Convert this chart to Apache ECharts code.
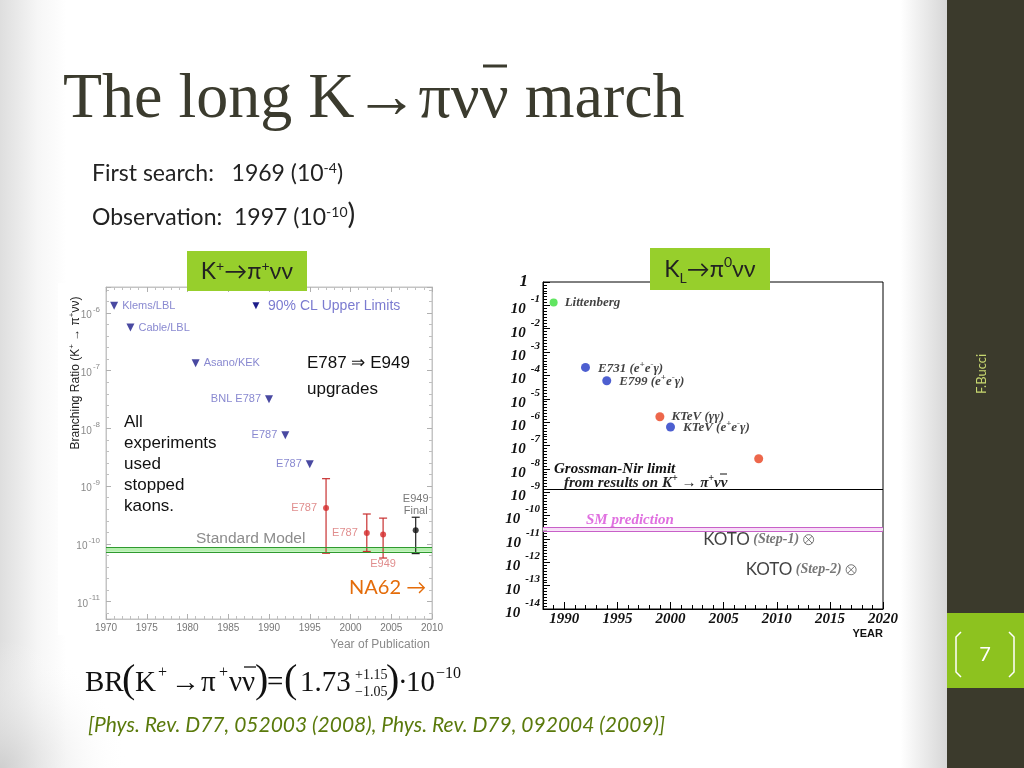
<!DOCTYPE html>
<html>
<head>
<meta charset="utf-8">
<title>The long K→πνν̄ march</title>
<script src="https://cdn.jsdelivr.net/npm/echarts@6/dist/echarts.min.js"></script>
<style>
  html, body { margin: 0; padding: 0; background: #fff; }
  #main { width: 1024px; height: 768px; }
</style>
</head>
<body>
<div id="main"></div>
<script>
'use strict';

// ---- K+ -> pi+ nu nubar (left panel) ----
// 90% CL upper limits
var limitYears = [1971, 1973, 1981, 1990, 1992, 1995];
var limitValues = [1.34e-6, 5.6e-7, 1.35e-7, 3.2e-8, 7.6e-9, 2.4e-9];
var limitNames = ['Klems/LBL', 'Cable/LBL', 'Asano/KEK', 'BNL E787', 'E787', 'E787'];

// measurements: central value and ends of the error bar
var measYears = [1997, 2002, 2004, 2008];
var measValues = [4.2e-10, 1.55e-10, 1.45e-10, 1.73e-10];
var measHigh = [1.35e-9, 3.3e-10, 2.8e-10, 2.9e-10];
var measLow = [6.9e-11, 7.4e-11, 5.7e-11, 6.8e-11];
var measNames = ['E787', 'E787', 'E949', 'E949\nFinal'];

// Standard Model band
var smBandCharged = [7.3e-11, 8.7e-11];

// ---- KL -> pi0 nu nubar (right panel) ----
var littenbergYears = [1989];
var littenbergValues = [1.34e-1];
var eegYears = [1992, 1994, 2000];
var eegValues = [2.2e-4, 5.9e-5, 6.2e-7];
var eegNames = ['E731', 'E799', 'KTeV'];
var ggYears = [1999, 2008.3];
var ggValues = [1.7e-6, 2.7e-8];
var ggNames = ['KTeV', ''];
var grossmanNir = 1.38e-9;
var smBandNeutral = [2.25e-11, 3.2e-11];
var kotoYears = [2013, 2017];
var kotoValues = [9.3e-12, 4.8e-13];
var kotoSteps = ['Step-1', 'Step-2'];

var SERIF = "'Liberation Serif', 'DejaVu Serif', serif";
var SANS = "'Liberation Sans', Arial, sans-serif";
var SLIDE = "Lato, 'Open Sans', sans-serif";

function lg(v) { return Math.log10(v); }
function isDecade(v) { return Math.abs(v - Math.round(v)) < 1e-6; }

var chart = echarts.init(document.getElementById('main'));

// 上限点
var limitData = limitYears.map(function (yr, i) {
    return {
        value: [yr, lg(limitValues[i])],
        name: limitNames[i],
        label: { position: i < 3 ? 'right' : 'left' }
    };
});

// 测量点
var measData = measYears.map(function (yr, i) {
    var final = measNames[i].indexOf('Final') >= 0;
    var pos = 'left', dist = 6;
    if (measNames[i] === 'E949') { pos = 'bottom'; dist = 20; }
    if (final) { pos = 'top'; dist = 10; }
    return {
        value: [yr, lg(measValues[i])],
        name: measNames[i],
        itemStyle: { color: final ? '#111' : '#d42a2a' },
        label: { position: pos, distance: dist, color: final ? '#555' : '#d87070' }
    };
});

var errData = measYears.map(function (yr, i) {
    return [yr, lg(measLow[i]), lg(measHigh[i])];
});

function errorBar(params, api) {
    var low = api.coord([api.value(0), api.value(1)]);
    var high = api.coord([api.value(0), api.value(2)]);
    var color = measNames[params.dataIndex].indexOf('Final') >= 0 ? '#222' : '#c83030';
    var cap = 4;
    var st = { stroke: color, lineWidth: 1.2 };
    return {
        type: 'group',
        children: [
            { type: 'line', shape: { x1: low[0], y1: low[1], x2: high[0], y2: high[1] }, style: st },
            { type: 'line', shape: { x1: low[0] - cap, y1: low[1], x2: low[0] + cap, y2: low[1] }, style: st },
            { type: 'line', shape: { x1: high[0] - cap, y1: high[1], x2: high[0] + cap, y2: high[1] }, style: st }
        ]
    };
}

var labRich = {
    t: { fontFamily: SERIF, fontWeight: 'bold', fontStyle: 'italic', fontSize: 13, color: '#111', verticalAlign: 'bottom' },
    p: { fontFamily: SERIF, fontWeight: 'bold', fontStyle: 'italic', fontSize: 9, color: '#111', verticalAlign: 'bottom', padding: [0, 0, 6, 0] }
};

var eegData = eegYears.map(function (yr, i) {
    return {
        value: [yr, lg(eegValues[i])],
        name: eegNames[i],
        label: { formatter: '{t|' + eegNames[i] + ' (e}{p|+}{t|e}{p|-}{t|γ)}' }
    };
});
var ggData = ggYears.map(function (yr, i) {
    return {
        value: [yr, lg(ggValues[i])],
        name: ggNames[i],
        label: { show: ggNames[i] !== '', formatter: '{t|' + ggNames[i] + ' (γγ)}' }
    };
});
var kotoData = kotoYears.map(function (yr, i) {
    return {
        value: [yr, lg(kotoValues[i])],
        label: { formatter: '{k|KOTO} {s|(' + kotoSteps[i] + ')}' }
    };
});

function slideText(x, y, text, style, extra) {
    var el = {
        type: 'text', x: x, y: y, z: 100,
        style: Object.assign({ text: text, fontFamily: SLIDE, fontSize: 23, fill: '#222', verticalAlign: 'middle' }, style)
    };
    return Object.assign(el, extra || {});
}
function bar(x1, x2, y, w, color) {
    return { type: 'line', z: 100, shape: { x1: x1, y1: y, x2: x2, y2: y }, style: { stroke: color, lineWidth: w } };
}

var supSlide = { fontFamily: SLIDE, fontSize: 14, color: '#222', verticalAlign: 'bottom', padding: [0, 0, 10, 0] };
var mainSlide = { fontFamily: SLIDE, fontSize: 23, color: '#222', verticalAlign: 'bottom' };

var formulaFont = { fontFamily: SERIF, fontSize: 29, fill: '#111' };
var bigParen = { fontFamily: SERIF, fontSize: 40, fill: '#111' };
var smallF = { fontFamily: SERIF, fontSize: 16, fill: '#111' };

var graphics = [
    // slide background
    {
        type: 'rect', z: -10, shape: { x: 0, y: 0, width: 948, height: 768 },
        style: {
            fill: new echarts.graphic.LinearGradient(0, 0, 1, 0, [
                { offset: 0, color: '#dedede' },
                { offset: 0.04, color: '#f6f6f6' },
                { offset: 0.07, color: '#ffffff' },
                { offset: 0.95, color: '#ffffff' },
                { offset: 1, color: '#d6d6d6' }
            ])
        }
    },
    {
        type: 'rect', z: -9, shape: { x: 0, y: 640, width: 260, height: 128 },
        style: {
            fill: new echarts.graphic.RadialGradient(0, 1, 1, [
                { offset: 0, color: 'rgba(205,205,205,0.9)' },
                { offset: 1, color: 'rgba(255,255,255,0)' }
            ])
        }
    },
    { type: 'rect', z: -5, shape: { x: 58, y: 283, width: 388, height: 352 }, style: { fill: '#fff' } },
    { type: 'rect', z: -5, shape: { x: 500, y: 270, width: 393, height: 372 }, style: { fill: '#fff' } },

    // sidebar
    { type: 'rect', z: 50, shape: { x: 947, y: 0, width: 77, height: 768 }, style: { fill: '#3b3a2c' } },
    { type: 'rect', z: 51, shape: { x: 947, y: 613, width: 77, height: 75 }, style: { fill: '#8dc21f' } },
    {
        type: 'polyline', z: 52, shape: { points: [[961, 632], [956, 637], [956, 672], [961, 677]] },
        style: { stroke: '#fff', lineWidth: 1.5, fill: null }
    },
    {
        type: 'polyline', z: 52, shape: { points: [[1009, 632], [1014, 637], [1014, 672], [1009, 677]] },
        style: { stroke: '#fff', lineWidth: 1.5, fill: null }
    },
    slideText(985, 655, '7', { fontSize: 20, fill: '#fff', align: 'center' }, { z: 53 }),
    slideText(982, 374, 'F.Bucci', { fontSize: 13, fill: '#c8d870', align: 'center' }, { z: 53, rotation: Math.PI / 2 }),

    // title and text
    slideText(63, 100, 'The long K→πνν march', { fontFamily: SERIF, fontSize: 64, fill: '#3b3b2e' }),
    bar(483, 507, 66, 3, '#3b3b2e'),
    slideText(92, 173, '{t|First search:   1969 (10}{s|-4}{t|)}', { rich: { t: mainSlide, s: supSlide } }),
    slideText(92, 215, '{t|Observation:  1997 (10}{s|-10}{b|)}', {
        rich: { t: mainSlide, s: supSlide, b: { fontFamily: SLIDE, fontSize: 29, color: '#222', verticalAlign: 'bottom' } }
    }),

    // green labels
    { type: 'rect', z: 40, shape: { x: 187, y: 251, width: 120, height: 40 }, style: { fill: '#97cf2c' } },
    slideText(247, 271, '{t|K}{s|+}{t|→π}{s|+}{t|νν}', {
        align: 'center', rich: { t: mainSlide, s: supSlide }
    }, { z: 41 }),
    { type: 'rect', z: 40, shape: { x: 650, y: 248, width: 120, height: 42 }, style: { fill: '#97cf2c' } },
    slideText(710, 270, '{t|K}{u|L}{t|→π}{s|0}{t|νν}', {
        align: 'center',
        rich: {
            t: { fontFamily: SLIDE, fontSize: 23, color: '#222', verticalAlign: 'top', padding: [3, 0, 0, 0] },
            s: { fontFamily: SLIDE, fontSize: 14, color: '#222', verticalAlign: 'top' },
            u: { fontFamily: SLIDE, fontSize: 14, color: '#222', verticalAlign: 'top', padding: [16, 0, 0, 0] }
        }
    }, { z: 41 }),

    // left panel annotations
    slideText(75, 373, '{t|Branching Ratio (K}{s|+}{t| → π}{s|+}{t|νν)}', {
        align: 'center',
        rich: {
            t: { fontFamily: SANS, fontSize: 12, color: '#8a8a8a', verticalAlign: 'bottom' },
            s: { fontFamily: SANS, fontSize: 8, color: '#8a8a8a', verticalAlign: 'bottom', padding: [0, 0, 6, 0] }
        }
    }, { rotation: Math.PI / 2 }),
    slideText(256, 306, '▼', { fontFamily: SANS, fontSize: 12, fill: '#1c1c8a', align: 'center' }),
    slideText(268, 306, '90% CL Upper Limits', { fontFamily: SANS, fontSize: 14, fill: '#7b7bd0' }),
    slideText(307, 363, 'E787 ⇒ E949', { fontFamily: SANS, fontSize: 17, fill: '#111' }),
    slideText(307, 389, 'upgrades', { fontFamily: SANS, fontSize: 17, fill: '#111' }),
    slideText(124, 464, 'All\nexperiments\nused\nstopped\nkaons.', { fontFamily: SANS, fontSize: 17, fill: '#111', lineHeight: 21 }),
    slideText(196, 539, 'Standard Model', { fontFamily: SANS, fontSize: 15.5, fill: '#8c8c8c' }),
    slideText(349, 588, 'NA62 →', { fontFamily: SLIDE, fontSize: 20, fill: '#e46c0a' }),
    slideText(430, 645, 'Year of Publication', { fontFamily: SANS, fontSize: 12, fill: '#8a8a8a', align: 'right' }),

    // right panel annotations
    slideText(554, 469, 'Grossman-Nir limit', { fontFamily: SERIF, fontSize: 15, fontWeight: 'bold', fontStyle: 'italic', fill: '#111' }),
    slideText(564, 482, '{t|from results on K}{s|+}{t| → π}{s|+}{t|νν}', {
        rich: {
            t: { fontFamily: SERIF, fontSize: 15, fontWeight: 'bold', fontStyle: 'italic', color: '#111', verticalAlign: 'bottom' },
            s: { fontFamily: SERIF, fontSize: 10, fontWeight: 'bold', fontStyle: 'italic', color: '#111', verticalAlign: 'bottom', padding: [0, 0, 7, 0] }
        }
    }),
    bar(720, 727, 474, 1, '#111'),
    slideText(586, 520, 'SM prediction', { fontFamily: SERIF, fontSize: 15, fontWeight: 'bold', fontStyle: 'italic', fill: '#e070e0' }),
    slideText(883, 634, 'YEAR', { fontFamily: SANS, fontSize: 11, fontWeight: 'bold', fill: '#111', align: 'right' }),

    // formula
    slideText(85, 683, 'BR', formulaFont),
    slideText(122, 681, '(', bigParen),
    slideText(135, 683, 'K', formulaFont),
    slideText(158, 673, '+', smallF),
    slideText(171, 683, '→', formulaFont),
    slideText(201, 683, 'π', formulaFont),
    slideText(219, 673, '+', smallF),
    slideText(229, 683, 'νν', formulaFont),
    bar(244, 256, 667, 1.3, '#111'),
    slideText(255, 681, ')', bigParen),
    slideText(267, 683, '=', formulaFont),
    slideText(284, 681, '(', bigParen),
    slideText(300, 683, '1.73', formulaFont),
    slideText(355, 675, '+1.15', { fontFamily: SERIF, fontSize: 14, fill: '#111' }),
    slideText(355, 692, '−1.05', { fontFamily: SERIF, fontSize: 14, fill: '#111' }),
    slideText(386, 681, ')', bigParen),
    slideText(398, 683, '·', formulaFont),
    slideText(406, 683, '10', formulaFont),
    slideText(436, 674, '−10', smallF),

    slideText(88, 725, '[Phys. Rev. D77, 052003 (2008), Phys. Rev. D79, 092004 (2009)]', {
        fontSize: 21, fontStyle: 'italic', fill: '#5a7a0c'
    })
];

var grayAxis = { onZero: false, lineStyle: { color: '#c4c4c4' } };
var blackAxis = { onZero: false, lineStyle: { color: '#000' } };

var option = {
    animation: false,
    backgroundColor: '#fff',
    graphic: graphics,
    grid: [
        { left: 106, top: 287, width: 326, height: 332, show: true, borderColor: '#c4c4c4', borderWidth: 1, outerBoundsMode: 'none' },
        { left: 543, top: 282, width: 340, height: 327, show: true, borderColor: '#000', borderWidth: 1, outerBoundsMode: 'none' }
    ],
    xAxis: [
        {
            gridIndex: 0, type: 'value', position: 'bottom', min: 1970, max: 2010, interval: 5,
            axisLine: grayAxis, splitLine: { show: false },
            axisTick: { inside: true, length: 5, lineStyle: { color: '#b0b0b0' } },
            minorTick: { show: true, splitNumber: 5, length: 3, lineStyle: { color: '#c0c0c0' } },
            axisLabel: { margin: 4, fontSize: 10, color: '#777', fontFamily: SANS, formatter: function (v) { return String(v); } }
        },
        {
            gridIndex: 0, type: 'value', position: 'top', min: 1970, max: 2010, interval: 5,
            axisLine: grayAxis, splitLine: { show: false }, axisLabel: { show: false },
            axisTick: { inside: true, length: 5, lineStyle: { color: '#b0b0b0' } },
            minorTick: { show: true, splitNumber: 5, length: 3, lineStyle: { color: '#c0c0c0' } }
        },
        {
            gridIndex: 1, type: 'value', position: 'bottom', min: 1988, max: 2020,
            axisLine: blackAxis, splitLine: { show: false },
            axisTick: { inside: true, length: 7, lineStyle: { color: '#000' } },
            minorTick: { show: true, splitNumber: 5, length: 4, lineStyle: { color: '#000' } },
            axisLabel: {
                margin: 3, fontSize: 15, color: '#111', fontFamily: SERIF, fontWeight: 'bold', fontStyle: 'italic',
                formatter: function (v) { return v % 5 === 0 ? String(v) : ''; }
            }
        }
    ],
    yAxis: [
        {
            gridIndex: 0, type: 'value', position: 'left', min: -11.3, max: -5.55,
            axisLine: grayAxis, splitLine: { show: false },
            axisTick: { inside: true, length: 5, lineStyle: { color: '#b0b0b0' } },
            minorTick: { show: true, splitNumber: 5, length: 3, lineStyle: { color: '#c0c0c0' } },
            axisLabel: {
                margin: 6,
                formatter: function (v) { return isDecade(v) ? '{b|10}{s|' + Math.round(v) + '}' : ''; },
                rich: {
                    b: { fontSize: 10, color: '#8a8a8a', fontFamily: SANS, verticalAlign: 'bottom' },
                    s: { fontSize: 8, color: '#8a8a8a', fontFamily: SANS, verticalAlign: 'bottom', padding: [0, 0, 7, 1] }
                }
            }
        },
        {
            gridIndex: 0, type: 'value', position: 'right', min: -11.3, max: -5.55,
            axisLine: grayAxis, splitLine: { show: false }, axisLabel: { show: false },
            axisTick: { inside: true, length: 5, lineStyle: { color: '#b0b0b0' } },
            minorTick: { show: true, splitNumber: 5, length: 3, lineStyle: { color: '#c0c0c0' } }
        },
        {
            gridIndex: 1, type: 'value', position: 'left', min: -14, max: 0, interval: 1,
            axisLine: blackAxis, splitLine: { show: false },
            axisTick: { inside: true, length: 7, lineStyle: { color: '#000' } },
            minorTick: { show: true, splitNumber: 8, length: 4, lineStyle: { color: '#000' } },
            axisLabel: {
                margin: 3,
                formatter: function (v) {
                    if (Math.round(v) === 0) return '{o|1}';
                    return '{b|10}{s|' + Math.round(v) + '}';
                },
                rich: {
                    b: { fontSize: 15, color: '#111', fontFamily: SERIF, fontWeight: 'bold', fontStyle: 'italic', verticalAlign: 'bottom' },
                    s: { fontSize: 11, color: '#111', fontFamily: SERIF, fontWeight: 'bold', fontStyle: 'italic', verticalAlign: 'bottom', padding: [0, 0, 12, 5] },
                    o: { fontSize: 17, color: '#111', fontFamily: SERIF, fontWeight: 'bold', fontStyle: 'italic', padding: [0, 12, 0, 0] }
                }
            }
        }
    ],
    series: [
        {
            name: 'limits', type: 'scatter', xAxisIndex: 0, yAxisIndex: 0,
            symbol: 'triangle', symbolRotate: 180, symbolSize: 8,
            itemStyle: { color: '#1c1c8a' },
            label: { show: true, formatter: '{b}', fontFamily: SANS, fontSize: 11, color: '#6a6ac4', distance: 4 },
            data: limitData
        },
        {
            name: 'errors', type: 'custom', xAxisIndex: 0, yAxisIndex: 0,
            renderItem: errorBar, data: errData, z: 3
        },
        {
            name: 'measurements', type: 'scatter', xAxisIndex: 0, yAxisIndex: 0,
            symbol: 'circle', symbolSize: 6, z: 4,
            label: { show: true, formatter: '{b}', fontFamily: SANS, fontSize: 11, lineHeight: 12 },
            data: measData,
            markArea: {
                silent: true,
                itemStyle: { color: 'rgba(120, 225, 110, 0.55)' },
                data: [[{ yAxis: lg(smBandCharged[0]) }, { yAxis: lg(smBandCharged[1]) }]]
            },
            markLine: {
                silent: true, symbol: 'none', label: { show: false },
                lineStyle: { color: '#2f9a2f', type: 'solid', width: 1 },
                data: [{ yAxis: lg(smBandCharged[0]) }, { yAxis: lg(smBandCharged[1]) }]
            }
        },
        {
            name: 'Littenberg', type: 'scatter', xAxisIndex: 2, yAxisIndex: 2,
            symbolSize: 8, itemStyle: { color: '#3ade3a' },
            label: { show: true, position: 'right', distance: 7, formatter: '{t|{b}}', rich: labRich },
            data: littenbergYears.map(function (yr, i) {
                return { value: [yr, lg(littenbergValues[i])], name: 'Littenberg' };
            })
        },
        {
            name: 'eeg', type: 'scatter', xAxisIndex: 2, yAxisIndex: 2,
            symbolSize: 9, itemStyle: { color: '#2137c4' },
            label: { show: true, position: 'right', distance: 8, rich: labRich },
            data: eegData,
            markLine: {
                silent: true, symbol: 'none', label: { show: false },
                lineStyle: { color: '#000', type: 'solid', width: 1 },
                data: [{ yAxis: lg(grossmanNir) }]
            }
        },
        {
            name: 'gg', type: 'scatter', xAxisIndex: 2, yAxisIndex: 2,
            symbolSize: 9, itemStyle: { color: '#e8411e' },
            label: { position: 'right', distance: 7, rich: labRich },
            data: ggData,
            markArea: {
                silent: true,
                itemStyle: { color: '#f6dcf6' },
                data: [[{ yAxis: lg(smBandNeutral[0]) }, { yAxis: lg(smBandNeutral[1]) }]]
            },
            markLine: {
                silent: true, symbol: 'none', label: { show: false },
                lineStyle: { color: '#c860c8', type: 'solid', width: 1.2 },
                data: [{ yAxis: lg(smBandNeutral[0]) }, { yAxis: lg(smBandNeutral[1]) }]
            }
        },
        {
            name: 'KOTO', type: 'scatter', xAxisIndex: 2, yAxisIndex: 2,
            symbol: 'path://M0,-10A10,10 0 1,1 0,10A10,10 0 1,1 0,-10ZM-7,-7L7,7M-7,7L7,-7',
            symbolSize: 10,
            itemStyle: { color: 'rgba(0,0,0,0)', borderColor: '#555', borderWidth: 1 },
            label: {
                show: true, position: 'left', distance: 4,
                rich: {
                    k: { fontFamily: SLIDE, fontSize: 17, color: '#111' },
                    s: { fontFamily: SERIF, fontSize: 14, fontWeight: 'bold', fontStyle: 'italic', color: '#555' }
                }
            },
            data: kotoData
        }
    ]
};

chart.setOption(option);
</script>
</body>
</html>
